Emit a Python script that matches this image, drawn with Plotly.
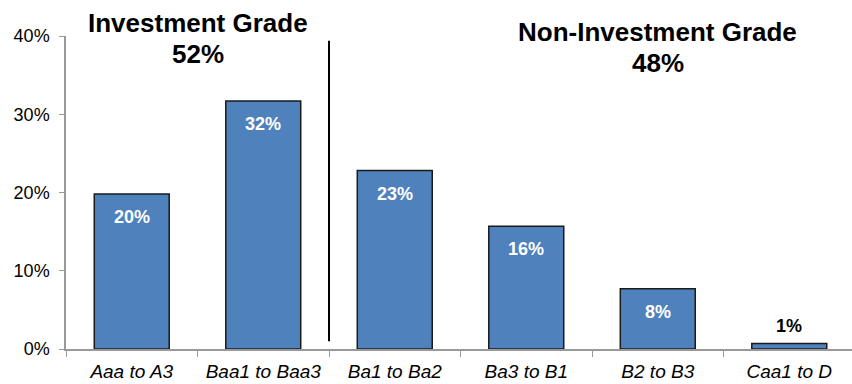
import plotly.graph_objects as go

categories = ["Aaa to A3", "Baa1 to Baa3", "Ba1 to Ba2", "Ba3 to B1", "B2 to B3", "Caa1 to D"]
values = [19.8, 31.7, 22.8, 15.7, 7.7, 0.7]
value_labels = ["20%", "32%", "23%", "16%", "8%", "1%"]
y_ticks = [0, 10, 20, 30, 40]
y_tick_labels = ["0%", "10%", "20%", "30%", "40%"]
group_titles = ["Investment Grade", "Non-Investment Grade"]
group_shares = ["52%", "48%"]

FONT = "Liberation Sans, Arial, sans-serif"
BAR = "#4F81BD"

fig = go.Figure()
fig.add_trace(go.Bar(
    x=categories, y=values, width=0.57,
    marker=dict(color=BAR, line=dict(color="#1a1a1a", width=1.5)),
    hoverinfo="skip", showlegend=False,
))

annotations = []
for i, (c, v, t) in enumerate(zip(categories, values, value_labels)):
    inside = v > 4
    annotations.append(dict(
        x=c, y=v, xref="x", yref="y", text=t, showarrow=False,
        yanchor="middle", yshift=-23 if inside else 18,
        font=dict(family=FONT, size=18, color="white" if inside else "black", weight="bold"),
    ))

TF = dict(family=FONT, size=26, color="black", weight="bold")
annotations.append(dict(x=0.5, y=1.042, xref="x", yref="paper", text=group_titles[0],
                        showarrow=False, yanchor="middle", font=TF))
annotations.append(dict(x=0.5, y=0.942, xref="x", yref="paper", text=group_shares[0],
                        showarrow=False, yanchor="middle", font=TF))
annotations.append(dict(x=4, y=1.013, xref="x", yref="paper", text=group_titles[1],
                        showarrow=False, yanchor="middle", font=TF))
annotations.append(dict(x=4, y=0.913, xref="x", yref="paper", text=group_shares[1],
                        showarrow=False, yanchor="middle", font=TF))

fig.update_layout(
    width=852, height=384,
    margin=dict(l=66, r=0, t=36, b=35),
    paper_bgcolor="white", plot_bgcolor="white",
    annotations=annotations,
    shapes=[dict(type="line", xref="x", yref="y", x0=1.5, x1=1.5, y0=1.0, y1=39.4,
                 line=dict(color="black", width=2))],
)
fig.update_xaxes(
    range=[-0.5, 5.477], showgrid=False, showline=True, linecolor="#999999", linewidth=1.5,
    ticks="outside", tickson="boundaries", ticklen=6, tickcolor="#999999",
    tickfont=dict(family=FONT, size=19, color="black", style="italic"),
    ticklabelstandoff=4, fixedrange=True,
)
fig.update_yaxes(
    range=[0, 40], tickvals=y_ticks, ticktext=y_tick_labels, showgrid=False,
    showline=True, linecolor="#999999", linewidth=1.5, ticks="outside", ticklen=5,
    tickcolor="#999999", tickfont=dict(family=FONT, size=18, color="black"),
    ticklabelstandoff=6, zeroline=False, fixedrange=True,
)

fig.write_html("out.html")
